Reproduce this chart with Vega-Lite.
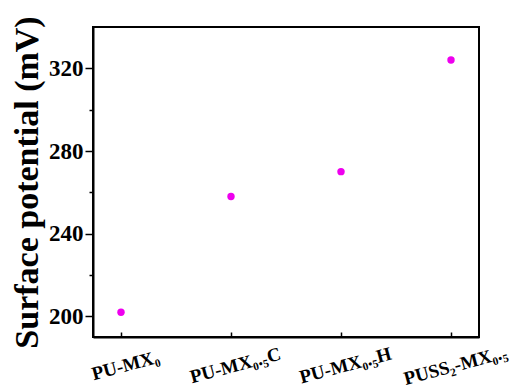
{
  "$schema": "https://vega.github.io/schema/vega-lite/v6.json",
  "autosize": "none",
  "padding": {"left": 93, "top": 27, "right": 36, "bottom": 53},
  "width": 386,
  "height": 310,
  "background": "white",
  "config": {
    "view": {"stroke": "black", "strokeWidth": 2},
    "font": "Liberation Serif"
  },
  "data": {"values": [
    {"sample": "PU-MX₀", "potential": 202},
    {"sample": "PU-MX₀.₅C", "potential": 258},
    {"sample": "PU-MX₀.₅H", "potential": 270},
    {"sample": "PUSS₂-MX₀.₅", "potential": 324}
  ]},
  "mark": {"type": "point", "filled": true, "opacity": 1, "size": 55, "color": "#ee00ee"},
  "encoding": {
    "x": {
      "field": "sample", "type": "nominal", "sort": null,
      "scale": {"type": "point", "padding": 0.2545},
      "axis": {
        "title": null, "grid": false, "domainColor": "black", "domainWidth": 2,
        "tickColor": "black", "tickWidth": 1.5, "tickSize": -5,
        "labelAngle": -15, "labelFont": "Liberation Serif", "labelFontWeight": "bold",
        "labelFontSize": 19, "labelColor": "black", "labelPadding": 33, "labelAlign": "center", "labelBaseline": "middle",
        "labelOffset": 4
      }
    },
    "y": {
      "field": "potential", "type": "quantitative",
      "scale": {"domain": [190, 340], "nice": false, "zero": false},
      "axis": {
        "title": "Surface potential (mV)", "grid": false,
        "values": [200, 220, 240, 260, 280, 300, 320],
        "labelExpr": "datum.value % 40 === 0 ? datum.label : ''",
        "tickSize": {"condition": {"test": "datum.value % 40 !== 0", "value": 4}, "value": 8},
        "domainColor": "black", "domainWidth": 2, "tickColor": "black", "tickWidth": 1.5,
        "labelFont": "Liberation Serif", "labelFontWeight": "bold", "labelFontSize": 23,
        "labelColor": "black", "labelPadding": 2,
        "titleFont": "Liberation Serif", "titleFontWeight": "bold", "titleFontSize": 34,
        "titleColor": "black", "titlePadding": 4
      }
    }
  }
}
